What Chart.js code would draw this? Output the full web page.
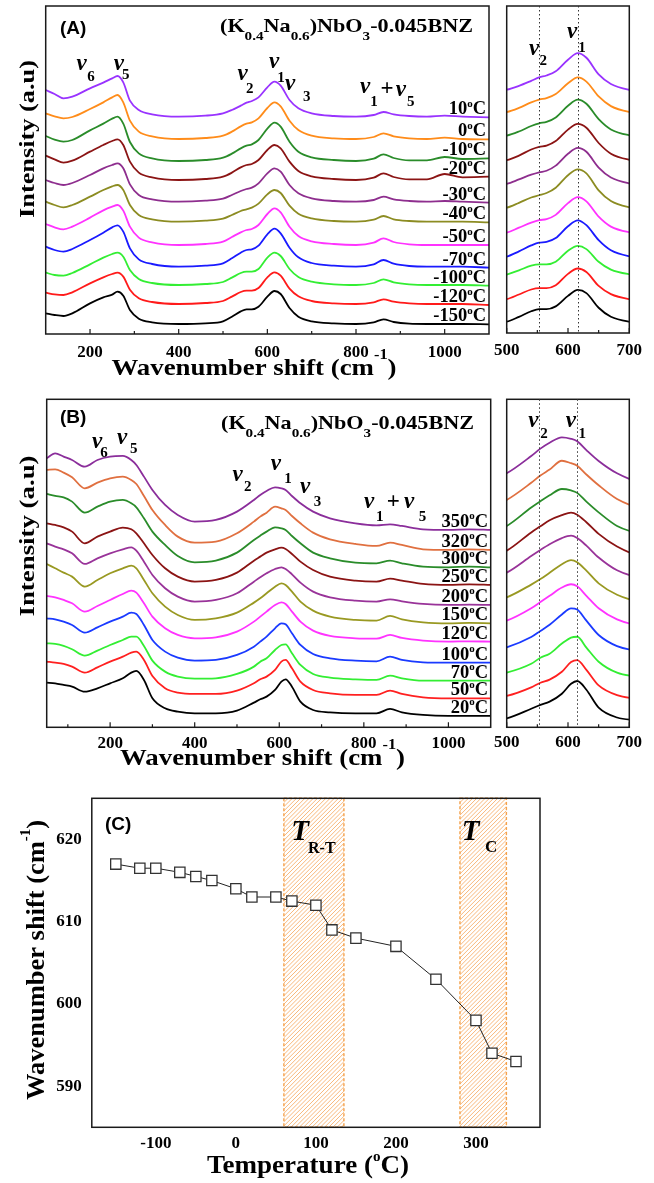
<!DOCTYPE html>
<html><head><meta charset="utf-8">
<script src="https://cdn.jsdelivr.net/npm/chart.js@4.4.0/dist/chart.umd.min.js"></script>
<style>
html,body{margin:0;padding:0;background:#fff;}
#wrap{position:relative;width:654px;height:1183px;overflow:hidden;}
canvas{position:absolute;left:0;top:0;}
</style></head><body><div id="wrap">
<canvas id="cA" width="654" height="1183"></canvas>
<canvas id="cAR" width="654" height="1183"></canvas>
<canvas id="cB" width="654" height="1183"></canvas>
<canvas id="cBR" width="654" height="1183"></canvas>
<canvas id="cC" width="654" height="1183"></canvas>
</div>
<script>
// ---------- Panel A data (low temperature spectra) ----------
const gridA = [100,120,140,160,200,230,250,262,275,290,310,340,400,460,500,520,540,553,565,580,600,616,630,650,670,700,750,800,840,862,885,920,960,1000,1040,1100];
const tempsA = ['10','0','-10','-20','-30','-40','-50','-70','-100','-120','-150'];
const offsetsA = [652,585,519,462,397,337,267,202,147,90,30];
const relA10  = [80,68,55,60,85,102,115,122,103,48,20,7,0,3,10,20,33,42,47,58,88,105,93,50,25,10,2,0,5,14,7,2,0,3,0,-2];
const relA0   = [77,68,62,66,90,110,125,132,110,55,22,8,0,3,10,22,38,46,50,62,93,110,98,55,27,10,2,0,6,17,8,2,0,4,0,-1];
const relAm10 = [75,64,58,63,92,112,127,133,112,57,23,8,0,3,10,22,38,46,50,63,97,115,103,58,28,11,3,0,7,20,9,2,2,12,6,8];
const relAm20 = [73,62,52,58,85,105,117,122,105,55,22,8,0,3,10,22,38,45,48,60,90,105,95,55,27,11,3,0,7,20,9,2,2,18,8,10];
const relAm30 = [65,56,50,56,80,100,110,115,100,52,20,7,0,3,9,20,32,38,42,55,85,100,90,50,25,10,2,0,5,15,7,2,0,2,0,-3];
const relAm40 = [60,50,43,50,75,95,106,110,95,50,20,7,0,3,9,20,32,37,42,54,82,95,86,48,24,10,2,0,6,17,7,2,0,0,0,-2];
const relAm50 = [63,53,47,55,82,104,115,120,103,55,22,8,0,3,10,24,38,45,48,60,93,110,98,55,27,11,3,0,7,20,9,2,0,0,0,0];
const relAm70 = [60,50,45,53,80,102,118,124,105,55,22,8,0,3,10,25,42,50,52,63,97,114,100,57,28,11,3,0,7,20,9,2,0,0,0,-3];
const relAm100= [37,30,28,36,62,82,93,97,85,45,18,6,0,3,9,22,36,40,40,48,82,97,87,48,24,10,2,0,6,17,8,2,0,0,0,-2];
const relAm120= [34,29,27,35,62,80,90,94,82,43,17,6,0,3,9,22,36,40,40,48,80,95,85,46,23,9,2,0,5,14,7,2,0,0,0,-3];
const relAm150= [32,27,24,32,62,80,88,97,85,42,16,5,0,2,8,22,38,44,44,52,82,99,90,48,22,8,2,0,5,14,6,1,0,0,0,-1];
const rightBaseA = [732,665,594,520,449,377,302,230,176,102,34];
const rightGainA = [1.16,1.04,1.03,1.15,1.19,1.34,1.07,1.05,0.98,1.07,1.05];
const dotLinesA = [553,616];

// ---------- Panel B data (high temperature spectra) ----------
const gridB = [50,70,90,110,140,170,200,230,250,262,280,300,330,360,400,450,500,540,555,570,590,605,615,630,650,680,720,780,830,862,890,940,1000,1050,1100];
const tempsB = ['350','320','300','250','200','150','120','100','70','50','20'];
const offsetsB = [617,552,495,437,377,322,267,202,147,100,44];
const relB350 = [190,205,195,185,165,185,195,197,185,170,135,95,50,20,0,5,30,65,80,92,103,100,95,77,55,30,10,-5,-11,-8,-13,-23,-25,-23,-25];
const relB320 = [220,222,212,198,165,182,195,200,190,178,142,100,55,20,2,5,30,65,80,92,110,105,100,82,60,32,12,-2,-8,2,-5,-18,-20,-18,-20];
const relB300 = [205,199,195,182,149,167,182,187,177,165,132,92,52,19,0,5,29,67,80,92,105,102,97,79,57,29,12,-1,-3,5,-3,-13,-15,-13,-15];
const relB250 = [175,170,163,150,115,135,150,162,157,145,115,80,40,15,0,5,27,63,75,87,97,102,98,83,60,35,15,3,0,9,3,-7,-10,-8,-10];
const relB200 = [175,165,157,145,113,130,145,157,163,153,120,80,40,15,0,5,25,60,73,85,98,103,98,82,57,30,13,3,0,7,1,-7,-10,-9,-10];
const relB150 = [168,155,142,130,100,120,140,155,163,155,120,80,40,15,0,5,22,52,65,80,100,110,105,85,55,28,10,0,-2,12,2,-7,-10,-9,-10];
const relB120 = [127,123,115,105,80,97,115,133,143,137,105,65,30,10,0,3,20,50,65,80,100,108,103,80,50,23,7,0,-1,10,1,-7,-10,-9,-10];
const relB100 = [125,122,115,105,82,98,115,130,142,138,105,60,25,7,-2,0,15,40,55,70,95,110,107,80,45,18,5,-2,-4,10,0,-7,-8,-8,-8];
const relB70  = [105,103,97,87,68,83,100,115,125,125,97,53,20,5,-1,0,13,35,50,60,85,100,102,75,40,13,2,-3,-5,8,0,-7,-7,-7,-7];
const relB50  = [97,94,90,82,64,80,97,112,124,127,102,54,17,4,0,0,10,32,44,52,72,97,102,77,37,12,2,-3,-3,10,0,-10,-13,-13,-13];
const relB20  = [90,88,83,78,63,73,88,103,120,125,98,43,13,3,-2,-2,6,30,40,48,68,93,100,78,33,8,1,-2,-2,11,1,-7,-10,-10,-10];
const rightBaseB = [762,682,604,530,464,390,320,240,164,94,27];
const rightGainB = [1.48,1.47,1.46,1.52,1.42,1.27,1.24,1.23,1.21,1.17,1.19];
const dotLinesB = [553,614];

// ---------- Ticks ----------
const xTicksA = [200,400,600,800,1000];
const xMinorA = [300,500,700,900];
const xTicksB = [200,400,600,800,1000];
const xMinorB = [100,300,500,700,900];
const xTicksR = [500,600,700];
const xMinorR = [550,650];

// ---------- Panel C data ----------
const tempC  = [-150,-120,-100,-70,-50,-30,0,20,50,70,100,120,150,200,250,300,320,350];
const shiftC = [617,616.5,616.5,616,615.5,615,614,613,613,612.5,612,609,608,607,603,598,594,593];
const bandStartC = [60,280];
const bandEndC   = [135,338];
const xTicksC = [-100,0,100,200,300];
const yTicksC = [590,600,610,620];

// ---------- styles ----------
const colorsA = ['#9933FF','#FF8C1A','#2A8C2A','#8B1414','#8E2E8E','#8C8C22','#FF33FF','#1A1AFF','#33EE33','#FF1A1A','#000000'];
const colorsB = ['#8B2E9B','#E07040','#2A8C2A','#8B1414','#993399','#999922','#FF33FF','#1A3AFF','#33EE33','#FF2020','#000000'];
const SERIF = "'Liberation Serif','Times New Roman',serif";
const SANS = "'Liberation Sans',Arial,sans-serif";
function F(size, style){ return (style||'bold')+' '+size+'px '+SERIF; }
function FI(size){ return 'italic bold '+size+'px '+SERIF; }

function drawParts(ctx, parts, x, y, o){
  o = o||{};
  ctx.save();
  let W=0; const w=[];
  for(const p of parts){ ctx.font=p[1]; const m=ctx.measureText(p[0]).width; w.push(m); W+=m; }
  const sc = o.width ? o.width/W : 1;
  ctx.translate(x,y);
  if(o.rot) ctx.rotate(-Math.PI/2);
  ctx.scale(sc,1);
  let cx = o.align==='right' ? -W : (o.align==='center' ? -W/2 : 0);
  ctx.textBaseline='alphabetic'; ctx.textAlign='left'; ctx.fillStyle=o.color||'#000';
  parts.forEach((p,i)=>{ ctx.font=p[1]; ctx.fillText(p[0], cx, p[2]||0); cx+=w[i]; });
  ctx.restore();
}
function ctext(ctx, s, x, y, font){ ctx.save(); ctx.font=font; ctx.fillStyle='#000'; ctx.textAlign='center'; ctx.textBaseline='alphabetic'; ctx.fillText(s,x,y); ctx.restore(); }
function nu(ctx, cx, cy, sub, sx, sy){ ctext(ctx,'\u03BD',cx,cy+5,FI(23)); ctext(ctx,sub,sx,sy+5,F(15)); }

function frame(chart){ const {ctx, chartArea:a}=chart; ctx.save(); ctx.strokeStyle='#1a1a1a'; ctx.lineWidth=1.5; ctx.strokeRect(a.left,a.top,a.right-a.left,a.bottom-a.top); ctx.restore(); }
function inTicks(chart, major, minor){
  const {ctx, chartArea:a}=chart, xs=chart.scales.x;
  ctx.save(); ctx.strokeStyle='#1a1a1a'; ctx.lineWidth=1.2; ctx.beginPath();
  major.forEach(v=>{const p=xs.getPixelForValue(v); ctx.moveTo(p,a.bottom); ctx.lineTo(p,a.bottom-5);});
  minor.forEach(v=>{const p=xs.getPixelForValue(v); ctx.moveTo(p,a.bottom); ctx.lineTo(p,a.bottom-3);});
  ctx.stroke(); ctx.restore();
}
function dotted(chart, vals){
  const {ctx, chartArea:a}=chart, xs=chart.scales.x;
  ctx.save(); ctx.strokeStyle='#333'; ctx.lineWidth=1; ctx.setLineDash([1.5,2.5]); ctx.beginPath();
  vals.forEach(v=>{const p=Math.round(xs.getPixelForValue(v))+0.5; ctx.moveTo(p,a.top); ctx.lineTo(p,a.bottom);});
  ctx.stroke(); ctx.restore();
}
function tempLabels(chart, temps, x){
  const ctx=chart.ctx, ys=chart.scales.y;
  chart.data.datasets.forEach((ds,i)=>{
    const last=ds.data[ds.data.length-1];
    const cy=ys.getPixelForValue(last.y)-9;
    drawParts(ctx, [[temps[i],F(18.5)],['o',F(11),-7.5],['C',F(18.5)]], x, cy+6, {align:'right'});
  });
}
function title(ctx, x, y){
  drawParts(ctx, [['(K',F(19)],['0.4',F(13),8],['Na',F(19)],['0.6',F(13),8],[')NbO',F(19)],['3',F(13),8],['-0.045BNZ',F(19)]], x, y, {width:253});
}
function xTitle(ctx, cx, y, w){
  drawParts(ctx, [['Wavenumber shift (cm',F(23)],['-1',F(14),-16],[')',F(23)]], cx, y, {align:'center', width:w});
}

function spectraChart(id, cfg){
  const i500 = cfg.grid.indexOf(500);
  const datasets = cfg.rels.map((rel,i)=>({
    data: cfg.grid.map((x,j)=>({x:x, y: cfg.right ? cfg.right.base[i] + cfg.right.gain[i]*(rel[j]-rel[i500]) : cfg.offsets[i]+rel[j]})),
    borderColor: cfg.colors[i], borderWidth:1.8, pointRadius:0, cubicInterpolationMode:'monotone', fill:false
  }));
  const A=cfg.area, YW=8, XH=40;
  return new Chart(document.getElementById(id), {
    type:'line',
    data:{datasets:datasets},
    options:{
      responsive:false, animation:false, devicePixelRatio:1,
      layout:{padding:{left:A.l-YW, top:A.t, right:654-A.r, bottom:1183-A.b-XH}},
      plugins:{legend:{display:false}, tooltip:{enabled:false}},
      scales:{
        x:{type:'linear', min:cfg.xmin, max:cfg.xmax, grid:{display:false,drawTicks:false}, border:{display:false},
           afterBuildTicks:s=>{s.ticks=cfg.ticks.map(v=>({value:v}));},
           afterFit:s=>{s.height=XH;},
           ticks:{autoSkip:false,maxRotation:0,minRotation:0,padding:cfg.tickPad,color:'#000',
                  font:{family:SERIF,weight:'bold',size:17}, callback:v=>String(v)}},
        y:{type:'linear', min:0, max:984, grid:{display:false,drawTicks:false}, border:{display:false},
           ticks:{display:false}, afterFit:s=>{s.width=YW;}}
      }
    },
    plugins:[{id:'deco', afterDraw(chart){ frame(chart); inTicks(chart, cfg.ticks, cfg.minor); cfg.draw(chart); }}]
  });
}

const relsA=[relA10,relA0,relAm10,relAm20,relAm30,relAm40,relAm50,relAm70,relAm100,relAm120,relAm150];
const relsB=[relB350,relB320,relB300,relB250,relB200,relB150,relB120,relB100,relB70,relB50,relB20];

spectraChart('cA', {grid:gridA, rels:relsA, offsets:offsetsA, colors:colorsA, xmin:100, xmax:1100,
  ticks:xTicksA, minor:xMinorA, tickPad:8, area:{l:45.7,t:6,r:489,b:334},
  draw(chart){
    const ctx=chart.ctx;
    tempLabels(chart, tempsA, 486);
    drawParts(ctx, [['(A)','bold 19px '+SANS]], 60, 33.5);
    title(ctx, 220, 31.5);
    nu(ctx,81.7,65,'6',91,76); nu(ctx,118.8,64.5,'5',125.8,74);
    nu(ctx,242.5,75,'2',249.7,87.5); nu(ctx,274,63,'1',281,76.7); nu(ctx,290,85,'3',306.7,96);
    nu(ctx,365,88,'1',374,100.8); ctext(ctx,'+',387,94.5,F(23)); nu(ctx,400.8,90.8,'5',410.8,100.8);
    xTitle(ctx, 254, 375, 285);
    drawParts(ctx, [['Intensity (a.u)',F(22)]], 34, 139, {rot:true, align:'center', width:158});
  }});

spectraChart('cAR', {grid:gridA, rels:relsA, right:{base:rightBaseA, gain:rightGainA}, colors:colorsA, xmin:500, xmax:700,
  ticks:xTicksR, minor:xMinorR, tickPad:7, area:{l:506.7,t:6,r:629.3,b:333},
  draw(chart){
    const ctx=chart.ctx;
    dotted(chart, dotLinesA);
    nu(ctx,534.2,50,'2',543.3,60); nu(ctx,572.2,33.3,'1',582,46.7);
  }});

spectraChart('cB', {grid:gridB, rels:relsB, offsets:offsetsB, colors:colorsB, xmin:50, xmax:1100,
  ticks:xTicksB, minor:xMinorB, tickPad:6, area:{l:46.7,t:399.3,r:490.7,b:727.3},
  draw(chart){
    const ctx=chart.ctx;
    tempLabels(chart, tempsB, 488);
    drawParts(ctx, [['(B)','bold 19px '+SANS]], 60, 423);
    title(ctx, 221, 429);
    nu(ctx,97,443.3,'6',104,451.7); nu(ctx,122,439,'5',133.7,448.3);
    nu(ctx,237.5,475.5,'2',247.7,486); nu(ctx,275.8,465,'1',288,477.5); nu(ctx,305,488.3,'3',317.5,500.8);
    nu(ctx,369,503.3,'1',379.7,515.8); ctext(ctx,'+',393.3,507.8,F(23)); nu(ctx,409,503.3,'5',422.5,515.8);
    xTitle(ctx, 262.5, 765, 285);
    drawParts(ctx, [['Intensity (a.u)',F(22)]], 34, 536, {rot:true, align:'center', width:161});
  }});

spectraChart('cBR', {grid:gridB, rels:relsB, right:{base:rightBaseB, gain:rightGainB}, colors:colorsB, xmin:500, xmax:700,
  ticks:xTicksR, minor:xMinorR, tickPad:5, area:{l:506.7,t:399.3,r:629.3,b:727.3},
  draw(chart){
    const ctx=chart.ctx;
    dotted(chart, dotLinesB);
    nu(ctx,533.3,421.7,'2',544,433.3); nu(ctx,570.8,421.7,'1',582.2,433.3);
  }});

// ---------- Panel C ----------
(function(){
  const YW=45, XH=40, A={l:91.8,t:798.3,r:540,b:1127.3};
  new Chart(document.getElementById('cC'), {
    type:'line',
    data:{datasets:[{data:tempC.map((t,i)=>({x:t,y:shiftC[i]})), borderColor:'#222', borderWidth:1,
      pointStyle:'rect', pointRadius:7.3, pointBorderColor:'#333', pointBorderWidth:1.3, pointBackgroundColor:'#fff', tension:0}]},
    options:{
      responsive:false, animation:false, devicePixelRatio:1,
      layout:{padding:{left:A.l-YW, top:A.t, right:654-A.r, bottom:1183-A.b-XH}},
      plugins:{legend:{display:false}, tooltip:{enabled:false}},
      scales:{
        x:{type:'linear', min:-180, max:380, grid:{display:false,drawTicks:false}, border:{display:false},
           afterBuildTicks:s=>{s.ticks=xTicksC.map(v=>({value:v}));}, afterFit:s=>{s.height=XH;},
           ticks:{autoSkip:false,maxRotation:0,padding:6.5,color:'#000',font:{family:SERIF,weight:'bold',size:17},callback:v=>String(v)}},
        y:{type:'linear', min:585, max:625, grid:{display:false,drawTicks:false}, border:{display:false},
           afterBuildTicks:s=>{s.ticks=yTicksC.map(v=>({value:v}));}, afterFit:s=>{s.width=YW;},
           ticks:{autoSkip:false,padding:10,color:'#000',font:{family:SERIF,weight:'bold',size:17},callback:v=>String(v)}}
      }
    },
    plugins:[{id:'bands',
      beforeDatasetsDraw(chart){
        const {ctx, chartArea:a}=chart, xs=chart.scales.x;
        bandStartC.forEach((s,i)=>{
          const x1=xs.getPixelForValue(s), x2=xs.getPixelForValue(bandEndC[i]);
          const H=a.bottom-a.top;
          ctx.save();
          ctx.beginPath(); ctx.rect(x1,a.top,x2-x1,H); ctx.clip();
          ctx.strokeStyle='rgba(245,160,80,0.75)'; ctx.lineWidth=1;
          ctx.beginPath();
          for(let k=x1-H; k<x2+4; k+=4.2){ ctx.moveTo(k,a.bottom); ctx.lineTo(k+H,a.top); }
          ctx.stroke();
          ctx.restore();
          ctx.save();
          ctx.strokeStyle='#F5A24C'; ctx.lineWidth=1.4; ctx.setLineDash([3,2]);
          ctx.strokeRect(x1,a.top,x2-x1,H); ctx.restore();
        });
      },
      afterDraw(chart){
        const ctx=chart.ctx;
        frame(chart);
        drawParts(ctx, [['(C)','bold 19px '+SANS]], 105, 830);
        ctext(ctx,'T',300,840,FI(29)); drawParts(ctx,[['R-T',F(16)]],308,853);
        ctext(ctx,'T',470.5,840,FI(29)); drawParts(ctx,[['C',F(17)]],485,852);
        drawParts(ctx, [['Wavenumber shift (cm',F(25)],['-1',F(14),-14],[')',F(25)]], 44, 960, {rot:true, align:'center', width:280});
        drawParts(ctx, [['Temperature (',F(25)],['o',F(14),-12],['C)',F(25)]], 308, 1173, {align:'center', width:202});
      }
    }]
  });
})();
</script>
</body></html>
